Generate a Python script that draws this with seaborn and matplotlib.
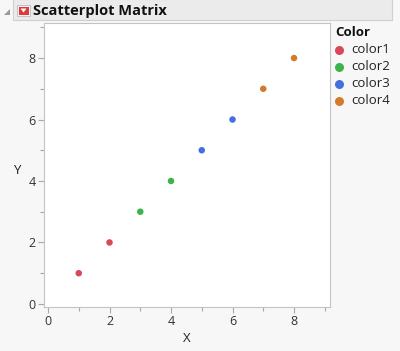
import matplotlib
matplotlib.use("Agg")
import matplotlib.pyplot as plt
from matplotlib.patches import Rectangle, Polygon
import seaborn as sns
import pandas as pd

x_vals = [1, 2, 3, 4, 5, 6, 7, 8]
y_vals = [1, 2, 3, 4, 5, 6, 7, 8]
groups = ["color1", "color1", "color2", "color2", "color3", "color3", "color4", "color4"]
group_order = ["color1", "color2", "color3", "color4"]
palette = ["#d8485c", "#3db44b", "#4470dc", "#d27c2a"]
x_ticks = [0, 2, 4, 6, 8]
y_ticks = [0, 2, 4, 6, 8]

df = pd.DataFrame({"X": x_vals, "Y": y_vals, "Color": groups})

sns.set_style("white")
plt.rcParams["font.family"] = ["Open Sans", "DejaVu Sans"]

W, H = 400, 351
fig = plt.figure(figsize=(W / 100, H / 100), dpi=100)
fig.patch.set_facecolor("#f7f7f7")

def fx(px):
    return px / W

def fy(py):
    return 1 - py / H

# title bar
bg = fig.add_axes([0, 0, 1, 1], zorder=-5)
bg.set_xlim(0, W)
bg.set_ylim(H, 0)
bg.axis("off")
bg.add_patch(Rectangle((13, -1), 379, 21, facecolor="#ebebeb", edgecolor="#cfcfcf", lw=0.8))
bg.add_patch(Polygon([[4, 15], [10, 15], [10, 9]], closed=True, facecolor="#9a9a9a", edgecolor="none"))
bg.add_patch(Rectangle((17, 5), 13, 11, facecolor="#f4f4f4", edgecolor="#bcbcbc", lw=0.6))
bg.add_patch(Rectangle((18.5, 6.5), 10, 8, facecolor="#e03a3a", edgecolor="none"))
bg.add_patch(Polygon([[20.5, 8.5], [26.5, 8.5], [23.5, 12.5]], closed=True, facecolor="white", edgecolor="none"))
bg.text(33, 10.5, "Scatterplot Matrix", fontsize=10.5, fontweight="bold", color="#111111",
        va="center", ha="left")

# plot area
L, R, T, B = 44, 330, 23, 307
ax = fig.add_axes([fx(L), fy(B), (R - L) / W, (B - T) / H])
ax.set_facecolor("white")
sns.scatterplot(data=df, x="X", y="Y", hue="Color", hue_order=group_order,
                palette=palette, s=22, linewidth=0, ax=ax, legend=False)
ax.set_xlim(-0.13, 9.17)
ax.set_ylim(-0.1, 9.14)
ax.set_xticks(x_ticks)
ax.set_yticks(y_ticks)
ax.set_xticks([1, 3, 5, 7, 9], minor=True)
ax.set_yticks([1, 3, 5, 7, 9], minor=True)
for sp in ax.spines.values():
    sp.set_color("#c4c4c4")
    sp.set_linewidth(0.8)
ax.tick_params(axis="both", which="major", direction="out", length=4, width=0.8,
               color="#a8a8a8", labelcolor="#333333", labelsize=9, pad=2,
               bottom=True, left=True)
ax.tick_params(axis="both", which="minor", direction="out", length=3, width=0.8,
               color="#a8a8a8", bottom=True, left=True)
ax.set_xlabel("X", fontsize=9.5, color="#222222", labelpad=3)
ax.set_ylabel("Y", fontsize=9.5, color="#222222", rotation=0, labelpad=10, va="center")
ax.yaxis.set_label_coords(-0.095, 0.48)
ax.grid(False)

# legend
bg.text(335, 32, "Color", fontsize=9.5, fontweight="bold", color="#111111", va="center", ha="left")
for i, (name, col) in enumerate(zip(group_order, palette)):
    yy = 49.5 + i * 17
    bg.scatter([338.5], [yy], s=42, color=col, linewidth=0)
    bg.text(351, yy, name, fontsize=9.5, color="#222222", va="center", ha="left")

fig.savefig("out.png", dpi=100, facecolor=fig.get_facecolor())
